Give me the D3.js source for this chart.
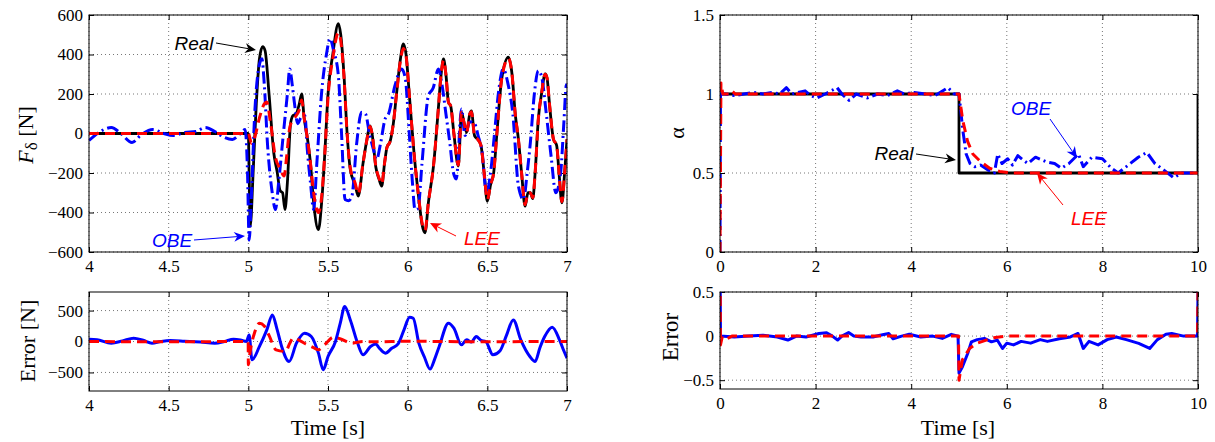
<!DOCTYPE html>
<html>
<head>
<meta charset="utf-8">
<script src="https://cdn.jsdelivr.net/npm/d3@7"></script>
<style>
body { margin: 0; background: #fff; }
text { font-family: "Liberation Serif", "Times New Roman", serif; fill: #000; }
.note { font-family: "Liberation Sans", Arial, sans-serif; font-style: italic; font-size: 19px; }
</style>
</head>
<body>
<script>
// ---- data ----
// left: steering force F_delta [N] over time 4..7 s
var realF = [[4,0],[5.0,0],[5.005,-200],[5.012,-470],[5.03,-200],[5.05,150],[5.07,380],[5.09,440],[5.105,420],[5.13,200],[5.16,-100],[5.18,-190],[5.2,-290],[5.215,-300],[5.23,-385],[5.245,-250],[5.265,50],[5.28,90],[5.3,100],[5.32,150],[5.335,200],[5.35,80],[5.37,-20],[5.39,-150],[5.41,-350],[5.44,-487],[5.46,-350],[5.48,-100],[5.5,200],[5.53,400],[5.565,556],[5.58,500],[5.6,300],[5.62,0],[5.64,-182],[5.67,-260],[5.69,-317],[5.72,-150],[5.74,-50],[5.765,39],[5.78,-20],[5.8,-170],[5.82,-230],[5.837,-266],[5.855,-150],[5.87,-70],[5.89,-40],[5.91,50],[5.93,200],[5.955,380],[5.973,454],[5.99,400],[6.01,200],[6.04,-100],[6.07,-330],[6.09,-460],[6.109,-503],[6.13,-350],[6.162,-165],[6.19,100],[6.21,300],[6.225,378],[6.24,300],[6.256,158],[6.27,140],[6.29,0],[6.318,-165],[6.338,107],[6.355,50],[6.37,5],[6.39,100],[6.40,115],[6.42,-12],[6.44,-30],[6.46,-60],[6.48,-200],[6.50,-343],[6.52,-260],[6.54,-198],[6.56,0],[6.59,276],[6.632,386],[6.655,300],[6.675,100],[6.695,-29],[6.715,-200],[6.737,-368],[6.755,-300],[6.77,-300],[6.785,-330],[6.8,-200],[6.82,73],[6.84,200],[6.863,302],[6.875,280],[6.89,150],[6.915,-29],[6.935,-60],[6.95,-200],[6.968,-351],[6.985,-200],[7.0,-29]];
var obeF = [[4.0,-35],[4.07,10],[4.14,30],[4.2,0],[4.27,-45],[4.33,-5],[4.4,20],[4.47,0],[4.53,-10],[4.6,5],[4.67,10],[4.73,30],[4.79,10],[4.85,-20],[4.9,-30],[4.95,0],[4.98,20],[4.995,-200],[5.005,-540],[5.02,-300],[5.04,100],[5.065,330],[5.085,378],[5.1,250],[5.12,-50],[5.15,-300],[5.17,-385],[5.19,-250],[5.22,0],[5.245,200],[5.26,327],[5.275,250],[5.29,150],[5.31,50],[5.33,80],[5.355,90],[5.37,-80],[5.39,-250],[5.41,-385],[5.43,-150],[5.46,208],[5.49,400],[5.513,480],[5.535,420],[5.565,293],[5.585,0],[5.607,-334],[5.63,-340],[5.65,-317],[5.68,-50],[5.71,107],[5.735,100],[5.76,0],[5.785,-80],[5.805,-131],[5.83,-50],[5.858,73],[5.88,100],[5.92,242],[5.962,327],[5.985,280],[6.01,0],[6.03,-250],[6.046,-385],[6.065,-380],[6.09,-150],[6.13,191],[6.16,230],[6.193,327],[6.215,250],[6.24,100],[6.265,-50],[6.287,-198],[6.305,-230],[6.338,124],[6.36,-10],[6.39,60],[6.42,50],[6.445,-20],[6.465,-80],[6.495,-300],[6.52,-200],[6.545,0],[6.57,208],[6.6,327],[6.63,250],[6.66,100],[6.695,-266],[6.727,-334],[6.75,-200],[6.77,-46],[6.795,200],[6.82,318],[6.84,290],[6.87,100],[6.9,-114],[6.93,-300],[6.96,-200],[6.98,50],[6.995,242],[7.0,250]];
var leeF = [[4,0],[5.0,0],[5.02,-50],[5.04,-20],[5.07,80],[5.1,150],[5.115,160],[5.14,50],[5.17,-120],[5.2,-180],[5.225,-215],[5.24,-120],[5.26,30],[5.28,70],[5.3,90],[5.32,120],[5.335,170],[5.35,80],[5.37,-20],[5.39,-150],[5.41,-300],[5.44,-400],[5.46,-320],[5.48,-100],[5.5,180],[5.53,380],[5.565,510],[5.58,470],[5.6,290],[5.62,0],[5.64,-175],[5.67,-250],[5.69,-305],[5.72,-150],[5.74,-50],[5.765,35],[5.78,-20],[5.8,-165],[5.82,-225],[5.837,-255],[5.855,-150],[5.87,-70],[5.89,-40],[5.91,50],[5.93,200],[5.955,370],[5.973,430],[5.99,390],[6.01,200],[6.04,-100],[6.07,-330],[6.09,-450],[6.109,-490],[6.13,-350],[6.162,-165],[6.19,100],[6.21,300],[6.225,370],[6.24,300],[6.256,158],[6.27,140],[6.29,0],[6.318,-160],[6.338,107],[6.355,50],[6.37,5],[6.39,100],[6.40,110],[6.42,-12],[6.44,-30],[6.46,-60],[6.48,-200],[6.50,-335],[6.52,-260],[6.54,-198],[6.56,0],[6.59,276],[6.632,380],[6.655,300],[6.675,100],[6.695,-29],[6.715,-200],[6.737,-360],[6.755,-300],[6.77,-300],[6.785,-325],[6.8,-200],[6.82,73],[6.84,200],[6.863,300],[6.875,280],[6.89,150],[6.915,-29],[6.935,-60],[6.95,-200],[6.968,-345],[6.985,-200],[7.0,-29]];
var obeErrF = [[4.0,38],[4.05,30],[4.14,-27],[4.21,10],[4.28,54],[4.34,20],[4.395,-27],[4.45,0],[4.51,16],[4.6,5],[4.7,-10],[4.79,-27],[4.85,0],[4.907,38],[4.95,25],[4.988,0],[5.005,107],[5.023,-296],[5.07,-80],[5.116,188],[5.151,430],[5.18,200],[5.209,-80],[5.256,-323],[5.302,-27],[5.353,134],[5.395,81],[5.44,-188],[5.47,-457],[5.5,-242],[5.547,0],[5.577,296],[5.605,565],[5.64,349],[5.686,-27],[5.72,-215],[5.767,-80],[5.8,-40],[5.82,-100],[5.86,-188],[5.9,-110],[5.94,-40],[5.977,188],[6.012,392],[6.035,376],[6.07,-27],[6.105,-250],[6.14,-446],[6.17,-280],[6.198,-80],[6.256,296],[6.29,215],[6.337,-54],[6.37,27],[6.4,-10],[6.43,81],[6.46,20],[6.49,0],[6.535,-215],[6.58,-150],[6.62,100],[6.663,349],[6.71,27],[6.767,-242],[6.8,-323],[6.83,-100],[6.86,80],[6.907,231],[6.953,27],[6.98,-150],[7.0,-269]];
var leeErrF = [[4,0],[4.5,-5],[4.999,0],[5.0,-376],[5.01,-188],[5.04,150],[5.07,296],[5.1,250],[5.13,100],[5.174,-134],[5.233,-161],[5.26,-30],[5.28,54],[5.32,20],[5.36,-40],[5.395,-80],[5.44,-134],[5.48,-50],[5.535,70],[5.58,40],[5.65,-27],[5.72,0],[5.8,-5],[6,5],[6.2,0],[6.5,-5],[6.8,0],[7,0]];

// right: weighting alpha over time 0..10 s
var realA = [[0,1],[5,1],[5,0.5],[10,0.5],[10,1]];
var obeA = [[0,0],[0.01,1.0],[0.1,1.0],[0.3,0.99],[0.5,1.0],[0.7,1.01],[0.9,1.0],[1.1,1.01],[1.25,1.0],[1.39,1.04],[1.5,1.0],[1.78,1.02],[1.9,0.99],[2.03,0.975],[2.2,1.0],[2.45,1.04],[2.55,1.0],[2.7,0.96],[2.85,1.0],[3.08,0.975],[3.3,1.0],[3.5,0.99],[3.71,1.02],[3.85,1.0],[4.06,1.01],[4.3,1.0],[4.5,0.99],[4.77,1.04],[4.9,1.0],[5.0,1.0],[5.08,0.77],[5.15,0.62],[5.23,0.56],[5.33,0.54],[5.45,0.55],[5.6,0.52],[5.74,0.5],[5.81,0.62],[5.9,0.56],[6.02,0.59],[6.12,0.55],[6.23,0.61],[6.35,0.58],[6.44,0.56],[6.6,0.6],[6.83,0.57],[7.0,0.56],[7.14,0.53],[7.3,0.56],[7.5,0.62],[7.6,0.54],[7.78,0.6],[8.0,0.59],[8.19,0.53],[8.33,0.5],[8.54,0.55],[8.75,0.6],[8.93,0.63],[9.1,0.56],[9.28,0.52],[9.49,0.47],[9.66,0.5],[9.87,0.5],[10,0.5]];
var leeA = [[0,0],[0.02,1.07],[0.06,1.0],[0.2,1.0],[0.25,1.02],[0.32,1.0],[5.0,1.0],[5.08,0.83],[5.18,0.7],[5.29,0.62],[5.46,0.57],[5.64,0.53],[5.85,0.51],[6.1,0.5],[10,0.5]];
var obeErrA = [[0,1],[0.01,0],[0.3,-0.01],[0.6,0.0],[0.9,0.01],[1.2,-0.01],[1.42,-0.045],[1.6,0],[1.8,-0.01],[2.07,0.03],[2.23,0.038],[2.35,0.0],[2.46,-0.045],[2.55,0.0],[2.69,0.04],[2.8,0.0],[2.95,-0.01],[3.2,-0.01],[3.35,0.01],[3.53,0.03],[3.62,-0.03],[3.8,0],[3.96,0.02],[4.2,-0.01],[4.45,0],[4.65,-0.026],[4.84,0.02],[4.98,0.0],[5.0,-0.42],[5.07,-0.35],[5.18,-0.2],[5.26,-0.065],[5.38,-0.04],[5.53,-0.026],[5.68,-0.065],[5.8,-0.045],[5.91,-0.14],[6.0,-0.08],[6.14,-0.1],[6.3,-0.06],[6.5,-0.08],[6.7,-0.04],[6.85,-0.06],[7.1,-0.03],[7.33,-0.01],[7.49,0.03],[7.6,-0.14],[7.72,-0.06],[7.91,-0.1],[8.1,-0.04],[8.29,-0.01],[8.5,-0.04],[8.76,-0.083],[8.99,-0.14],[9.15,-0.04],[9.33,0.02],[9.45,0.03],[9.7,0],[9.9,0],[9.99,0],[10,0.5]];
var leeErrA = [[0,1],[0.01,-0.1],[0.05,0],[0.15,-0.03],[0.25,0],[1,0],[2,0],[3,0],[4,0],[4.99,0],[5.0,-0.5],[5.07,-0.27],[5.22,-0.14],[5.38,-0.08],[5.57,-0.045],[5.76,-0.015],[6.0,0],[9.99,0],[10,0.5]];

// tick labels
var xTicksL = [4, 4.5, 5, 5.5, 6, 6.5, 7];
var xTicksR = [0, 2, 4, 6, 8, 10];
var yTicksF = [-600, -400, -200, 0, 200, 400, 600];
var yTicksErrF = [-500, 0, 500];
var yTicksA = [0, 0.5, 1, 1.5];
var yTicksErrA = [-0.5, 0, 0.5];

// ---- drawing ----
var svg = d3.select("body").append("svg")
    .attr("width", 1215)
    .attr("height", 442);

var fmt = function(d){ return String(d).replace("-", "\u2212"); };
var smooth = d3.curveMonotoneX;

function panel(o){
    var x = d3.scaleLinear().domain(o.xd).range([o.left, o.right]);
    var y = d3.scaleLinear().domain(o.yd).range([o.bottom, o.top]);
    var g = svg.append("g");

    svg.append("clipPath").attr("id", o.id)
      .append("rect")
        .attr("x", o.left).attr("y", o.top)
        .attr("width", o.right - o.left).attr("height", o.bottom - o.top);

    // dotted grid
    g.selectAll(null).data(o.xt).enter().append("line")
        .attr("x1", d => x(d)).attr("x2", d => x(d))
        .attr("y1", o.top).attr("y2", o.bottom)
        .attr("stroke", "#777").attr("stroke-width", 1).attr("stroke-dasharray", "1,3");
    g.selectAll(null).data(o.yt).enter().append("line")
        .attr("y1", d => y(d)).attr("y2", d => y(d))
        .attr("x1", o.left).attr("x2", o.right)
        .attr("stroke", "#777").attr("stroke-width", 1).attr("stroke-dasharray", "1,3");

    // axes, ticks pointing inward on all four sides
    var ax = [
        [d3.axisBottom(x).tickValues(o.xt).tickFormat(fmt).tickPadding(8), 0, o.bottom],
        [d3.axisTop(x).tickValues(o.xt).tickFormat(""), 0, o.top],
        [d3.axisLeft(y).tickValues(o.yt).tickFormat(fmt).tickPadding(6), o.left, 0],
        [d3.axisRight(y).tickValues(o.yt).tickFormat(""), o.right, 0]
    ];
    ax.forEach(function(a){
        var s = g.append("g")
            .attr("transform", `translate(${a[1]},${a[2]})`)
            .call(a[0].tickSizeInner(-5).tickSizeOuter(0))
            .attr("font-family", "Liberation Serif")
            .attr("font-size", 17);
        s.select(".domain").remove();
        s.selectAll("line").attr("stroke", "#000");
        s.selectAll("text")
            .style("font-family", "Liberation Serif")
            .style("font-size", "17px")
            .attr("fill", "#000");
    });

    // series
    o.series.forEach(function(s){
        g.append("path")
            .datum(s.data)
            .attr("clip-path", `url(#${o.id})`)
            .attr("fill", "none")
            .attr("stroke", s.color)
            .attr("stroke-width", s.width)
            .attr("stroke-dasharray", s.dash || null)
            .attr("stroke-linejoin", "round")
            .attr("d", d3.line().x(d => x(d[0])).y(d => y(d[1])).curve(s.curve || smooth));
    });

    // box
    g.append("rect")
        .attr("x", o.left).attr("y", o.top)
        .attr("width", o.right - o.left).attr("height", o.bottom - o.top)
        .attr("fill", "none").attr("stroke", "#000").attr("stroke-width", 1);
    return g;
}

var dashRed = "10,6";
var dashBlue = "12,4,2,4";

panel({ id: "tl", left: 89, right: 567, top: 15, bottom: 252,
    xd: [4, 7], yd: [-600, 600], xt: xTicksL, yt: yTicksF,
    series: [
        { data: realF, color: "#000", width: 2.8 },
        { data: obeF, color: "#0000ff", width: 3, dash: dashBlue },
        { data: leeF, color: "#ff0000", width: 3, dash: dashRed }
    ] });

panel({ id: "bl", left: 89, right: 567, top: 292, bottom: 391,
    xd: [4, 7], yd: [-800, 800], xt: xTicksL, yt: yTicksErrF,
    series: [
        { data: obeErrF, color: "#0000ff", width: 3 },
        { data: leeErrF, color: "#ff0000", width: 3, dash: dashRed }
    ] });

panel({ id: "tr", left: 720, right: 1198, top: 15, bottom: 252,
    xd: [0, 10], yd: [0, 1.5], xt: xTicksR, yt: yTicksA,
    series: [
        { data: realA, color: "#000", width: 2.8, curve: d3.curveLinear },
        { data: obeA, color: "#0000ff", width: 3, dash: dashBlue, curve: d3.curveLinear },
        { data: leeA, color: "#ff0000", width: 3, dash: dashRed, curve: d3.curveLinear }
    ] });

panel({ id: "br", left: 720, right: 1198, top: 292, bottom: 389,
    xd: [0, 10], yd: [-0.6, 0.5], xt: xTicksR, yt: yTicksErrA,
    series: [
        { data: obeErrA, color: "#0000ff", width: 3, curve: d3.curveLinear },
        { data: leeErrA, color: "#ff0000", width: 3, dash: dashRed, curve: d3.curveLinear }
    ] });

// axis labels
function vlabel(cx, cy, size){
    return svg.append("text")
        .attr("transform", `translate(${cx},${cy}) rotate(-90)`)
        .attr("text-anchor", "middle").attr("dy", "0.35em")
        .style("font-size", size + "px");
}
var fl = vlabel(25, 135, 22);
fl.append("tspan").style("font-style", "italic").text("F");
fl.append("tspan").attr("baseline-shift", "-25%").style("font-size", "17px").text("\u03b4");
fl.append("tspan").text(" [N]");
vlabel(27, 341, 22).text("Error [N]");
vlabel(676, 133, 22).text("\u03b1");
vlabel(670, 337, 23).text("Error");

svg.append("text").attr("x", 328).attr("y", 427).attr("dy", "0.35em")
    .attr("text-anchor", "middle").style("font-size", "22px").text("Time [s]");
svg.append("text").attr("x", 958).attr("y", 427).attr("dy", "0.35em")
    .attr("text-anchor", "middle").style("font-size", "22px").text("Time [s]");

// annotations with arrows
function arrow(x1, y1, x2, y2, color){
    var a = Math.atan2(y2 - y1, x2 - x1), L = 11, W = 5;
    var bx = x2 - L * Math.cos(a), by = y2 - L * Math.sin(a);
    var nx = -Math.sin(a), ny = Math.cos(a);
    var mx = x2 - 0.7 * L * Math.cos(a), my = y2 - 0.7 * L * Math.sin(a);
    svg.append("line").attr("x1", x1).attr("y1", y1).attr("x2", mx).attr("y2", my)
        .attr("stroke", color).attr("stroke-width", 1);
    svg.append("path")
        .attr("d", `M${x2},${y2}L${bx + W * nx},${by + W * ny}L${mx},${my}L${bx - W * nx},${by - W * ny}Z`)
        .attr("fill", color);
}
function note(t, cx, cy, color){
    svg.append("text").attr("class", "note")
        .attr("x", cx).attr("y", cy).attr("dy", "0.35em")
        .attr("text-anchor", "middle").style("fill", color).text(t);
}
note("Real", 194, 43, "#000");   arrow(216, 43, 256, 50, "#000");
note("OBE", 172, 240, "#0000ff"); arrow(194, 240, 245, 236, "#0000ff");
note("LEE", 482, 238, "#ff0000"); arrow(456, 236, 430, 223, "#ff0000");
note("Real", 894, 153, "#000");   arrow(916, 154, 956, 160, "#000");
note("OBE", 1031, 108, "#0000ff"); arrow(1050, 119, 1077, 158, "#0000ff");
note("LEE", 1089, 218, "#ff0000"); arrow(1063, 205, 1037, 173, "#ff0000");
</script>
</body>
</html>
